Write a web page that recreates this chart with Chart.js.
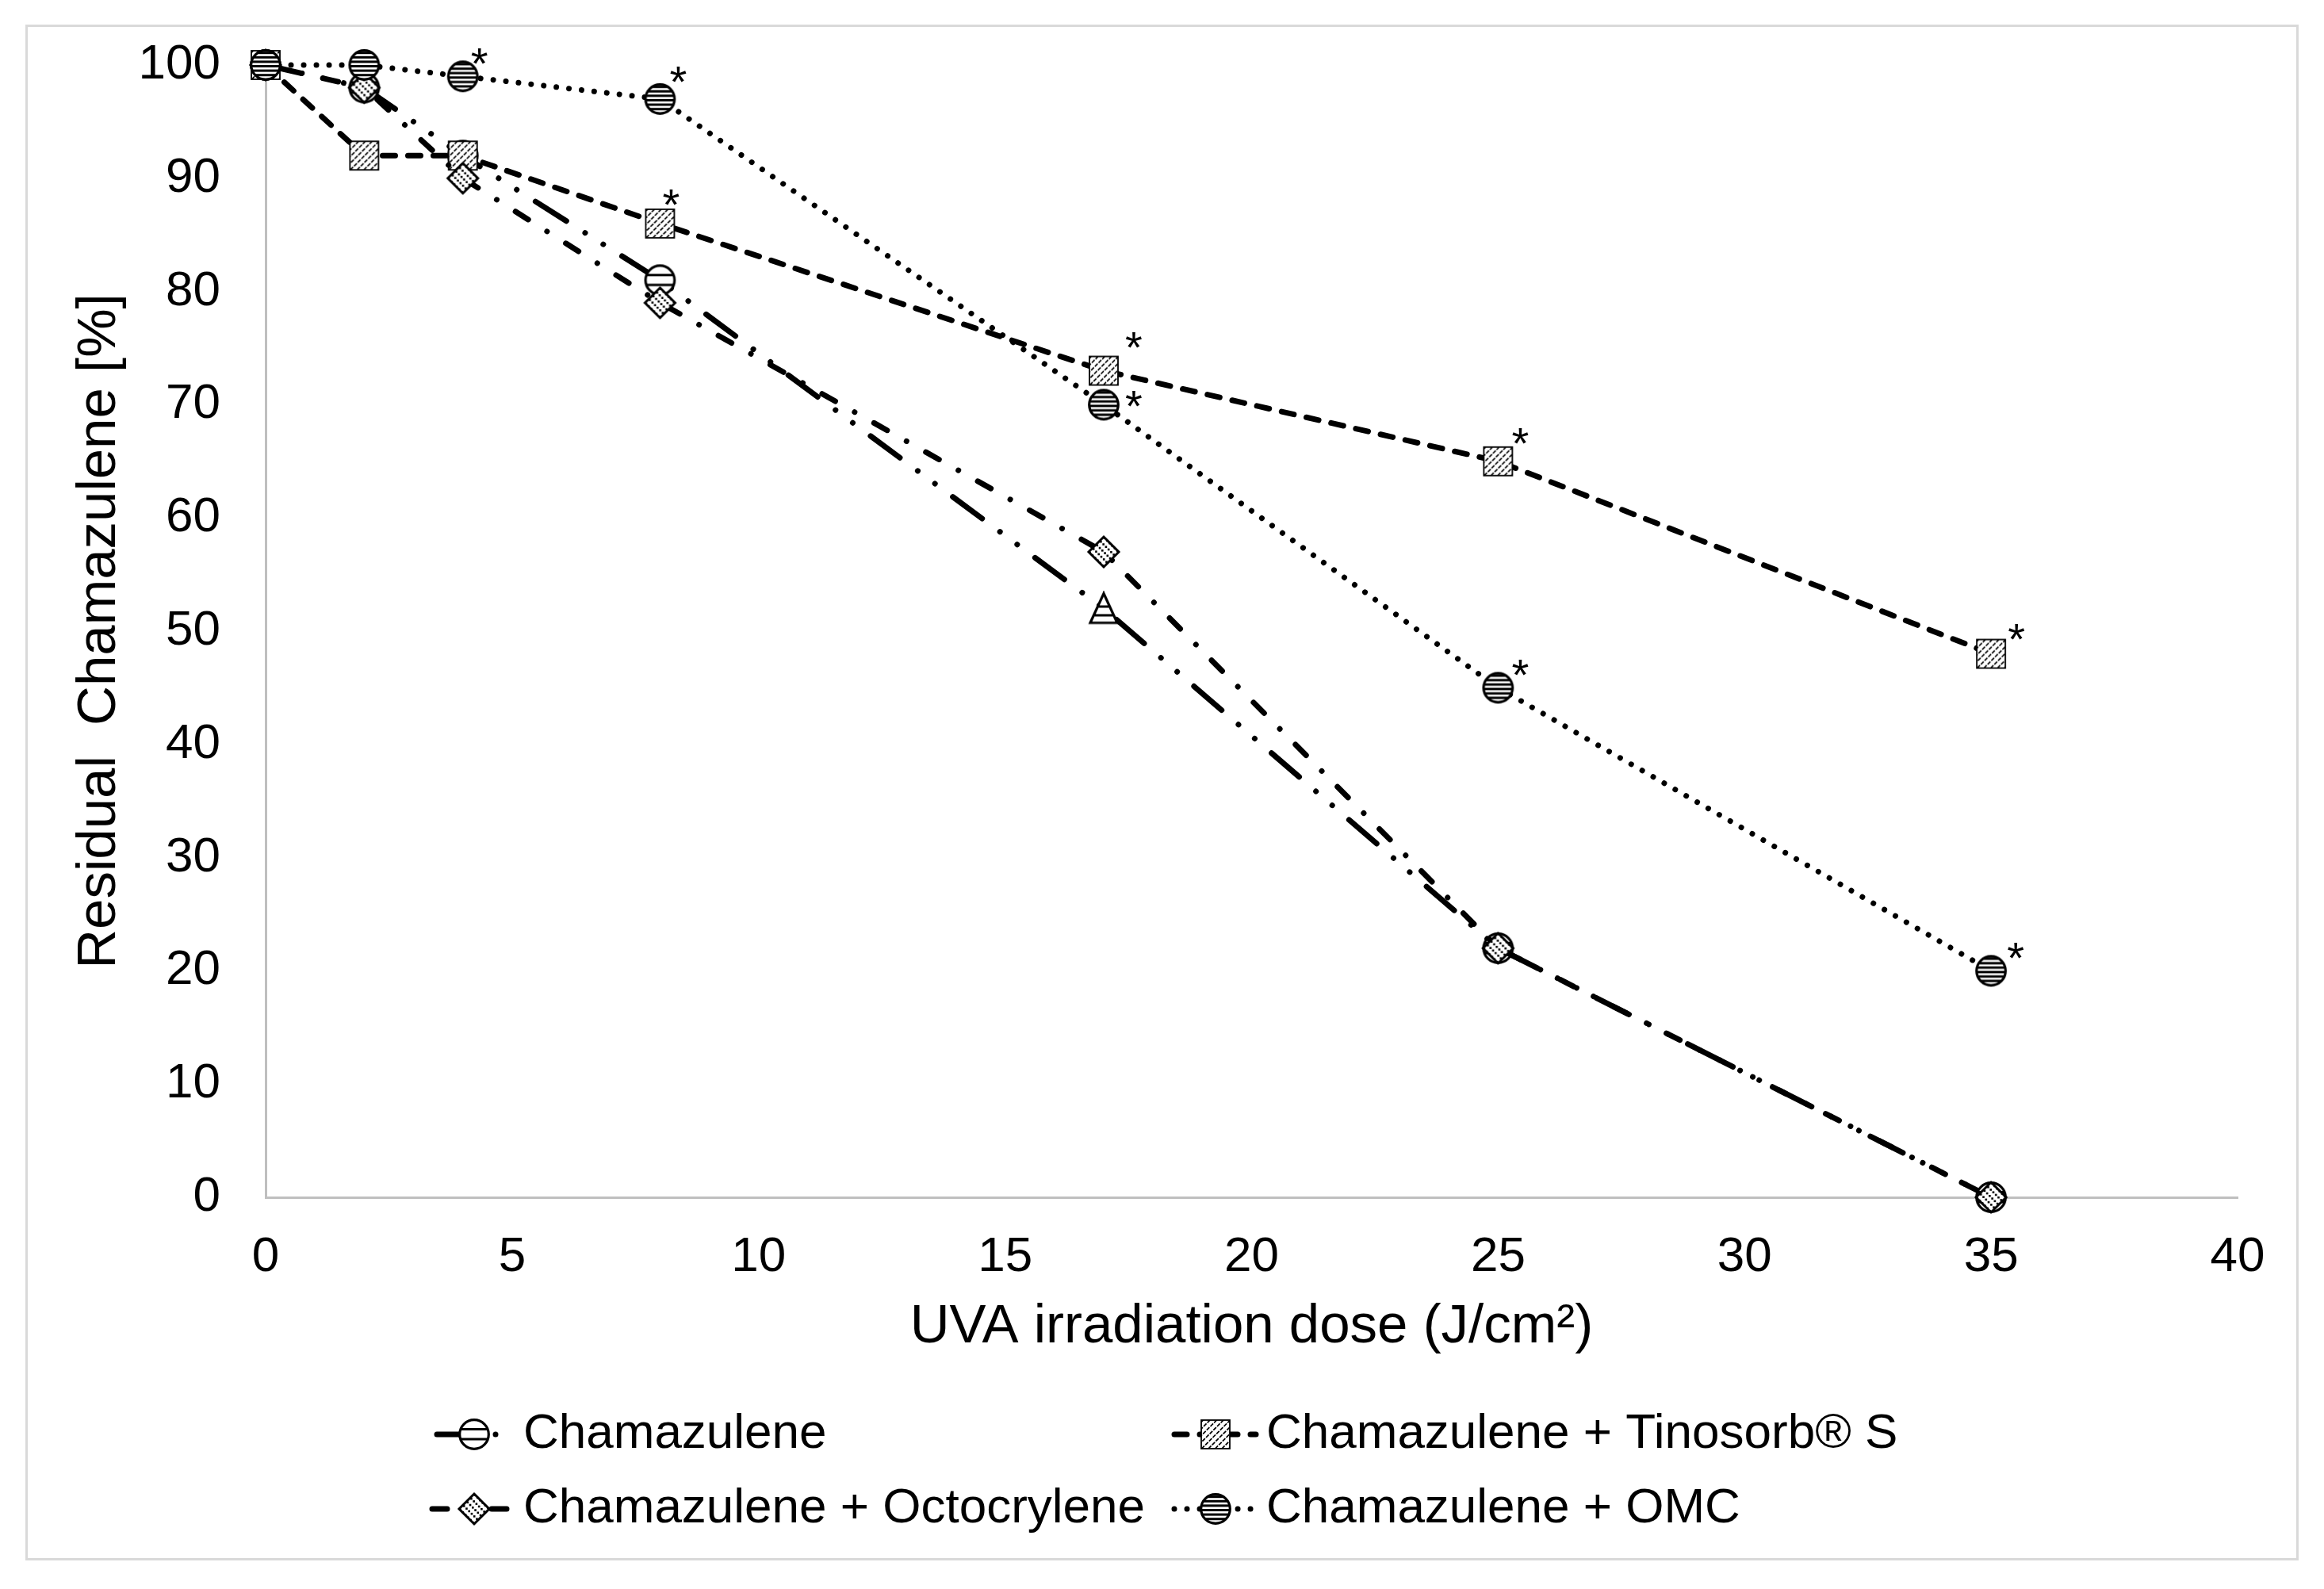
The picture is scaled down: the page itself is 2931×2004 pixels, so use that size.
<!DOCTYPE html>
<html>
<head>
<meta charset="utf-8">
<script src="https://cdn.jsdelivr.net/npm/chart.js@4.4.1/dist/chart.umd.min.js"></script>
<style>
html,body{margin:0;padding:0;background:#fff;}
canvas{display:block;}
</style>
</head>
<body>
<canvas id="c" width="2931" height="2004" style="width:2931px;height:2004px"></canvas>
<script>
// ---------------- data ----------------
const doses = [0, 2, 4, 8, 17, 25, 35];
const chamazulene = [100, 98, 92, 81, 52, 22, 0];
const tinosorb    = [100, 92, 92, 86, 73, 65, 48];
const octocrylene = [100, 98, 90, 79, 57, 22, 0];
const omc         = [100, 100, 99, 97, 70, 45, 20];
const tinosorbSignificant = [false, false, false, true, true, true, true];
const omcSignificant      = [false, false, true, true, true, true, true];
const seriesNames = ['Chamazulene', 'Chamazulene + Tinosorb® S', 'Chamazulene + Octocrylene', 'Chamazulene + OMC'];
const xAxisTitle = 'UVA irradiation dose (J/cm²)';
const yAxisTitle = 'Residual  Chamazulene [%]';
const xMin = 0, xMax = 40, xStep = 5;
const yMin = 0, yMax = 100, yStep = 10;

// ---------------- styling ----------------
const FONT = "'Liberation Sans', Arial, Helvetica, sans-serif";
const LW = 7;
// asterisk placement relative to the marker (styling only)
const tinosorbStarOffset = [null, null, null, [14, -37], [38, -43], [28, -36], [32, -32]];
const omcStarOffset      = [null, null, [21, -29], [23, -35], [38, -11], [28, -29], [31, -29]];
// legend swatch extents and dash offsets (styling only)
const legendSwatch = [[545, 630], [1481, 1584], [545, 647], [1481, 1584]];
const legendDashOffset = [-6, 0, 0, 0];

function mk(w, h, draw) {
  const c = document.createElement('canvas');
  c.width = w; c.height = h;
  draw(c.getContext('2d'), w, h);
  return c;
}
// Chamazulene: white circle with two horizontal bars
const mChamCircle = mk(44, 44, g => {
  const c = 22, r = 18.3;
  g.beginPath(); g.arc(c, c, r, 0, 2 * Math.PI); g.fillStyle = '#fff'; g.fill();
  g.save(); g.clip(); g.fillStyle = '#000';
  g.fillRect(0, 14, 44, 3); g.fillRect(0, 26.5, 44, 3);
  g.restore();
  g.beginPath(); g.arc(c, c, r, 0, 2 * Math.PI); g.lineWidth = 3.2; g.strokeStyle = '#000'; g.stroke();
});
// Chamazulene at 17 rendered as a striped triangle in the original
const mChamTri = mk(44, 44, g => {
  const path = () => { g.beginPath(); g.moveTo(22, 3); g.lineTo(39, 40); g.lineTo(5, 40); g.closePath(); };
  path(); g.fillStyle = '#fff'; g.fill();
  g.save(); path(); g.clip(); g.fillStyle = '#000';
  g.fillRect(0, 18, 44, 3); g.fillRect(0, 29, 44, 3);
  g.restore();
  path(); g.lineWidth = 3.2; g.strokeStyle = '#000'; g.lineJoin = 'miter'; g.stroke();
});
// Tinosorb: hatched square
const mSquare = mk(42, 42, g => {
  const x0 = 3, y0 = 3, s = 36;
  g.fillStyle = '#fff'; g.fillRect(x0, y0, s, s);
  g.save(); g.beginPath(); g.rect(x0, y0, s, s); g.clip();
  g.strokeStyle = '#000'; g.lineWidth = 1.7; g.setLineDash([5, 1.6]);
  for (let k = -42; k <= 42; k += 8.5) {
    g.beginPath(); g.moveTo(x0 + k, y0 + s); g.lineTo(x0 + k + s, y0); g.stroke();
  }
  g.restore();
  g.setLineDash([]); g.lineWidth = 1.8; g.strokeStyle = '#000'; g.strokeRect(x0, y0, s, s);
});
// Octocrylene: diamond with dotted hatch
const mDiamond = mk(44, 44, g => {
  const c = 22, r = 19;
  const path = () => { g.beginPath(); g.moveTo(c, c - r); g.lineTo(c + r, c); g.lineTo(c, c + r); g.lineTo(c - r, c); g.closePath(); };
  path(); g.fillStyle = '#fff'; g.fill();
  g.save(); path(); g.clip(); g.fillStyle = '#000';
  for (let k = -3; k <= 3; k++) {
    const off = k * 6.5;
    for (let t = -30; t <= 30; t += 4.6) {
      const x = c + (t + off) / Math.SQRT2;
      const y = c + (t - off) / Math.SQRT2;
      g.fillRect(x - 1.3, y - 1.3, 2.6, 2.6);
    }
  }
  g.restore();
  path(); g.lineWidth = 3; g.strokeStyle = '#000'; g.stroke();
});
// OMC: densely striped circle
const mOmc = mk(44, 44, g => {
  const c = 22, r = 18.3;
  g.beginPath(); g.arc(c, c, r, 0, 2 * Math.PI); g.fillStyle = '#fff'; g.fill();
  g.save(); g.clip(); g.fillStyle = '#000';
  for (let y = c - r + 1.5; y < c + r; y += 5.6) g.fillRect(0, y, 44, 3);
  g.restore();
  g.beginPath(); g.arc(c, c, r, 0, 2 * Math.PI); g.lineWidth = 3.2; g.strokeStyle = '#000'; g.stroke();
});

const chamStyles = doses.map((d, i) => (i === 4 ? mChamTri : mChamCircle));
const pts = ys => ys.map((y, i) => ({ x: doses[i], y }));

const common = {
  borderColor: '#000', backgroundColor: '#fff', borderWidth: LW,
  borderCapStyle: 'round', borderJoinStyle: 'round', tension: 0, fill: false,
  pointRadius: 19, pointHoverRadius: 19, clip: false
};

const datasets = [
  Object.assign({ label: seriesNames[0], data: pts(chamazulene), borderDash: [46, 28, 0.01, 27, 0.01, 28], pointStyle: chamStyles, order: 3 }, common),
  Object.assign({ label: seriesNames[1], data: pts(tinosorb), borderDash: [16, 16], pointStyle: mSquare, order: 2 }, common),
  Object.assign({ label: seriesNames[2], data: pts(octocrylene), borderDash: [19, 28, 0.01, 28], pointStyle: mDiamond, order: 1 }, common),
  Object.assign({ label: seriesNames[3], data: pts(omc), borderDash: [0.01, 16], pointStyle: mOmc, order: 0 }, common)
];

const bgPlugin = {
  id: 'bg',
  beforeDraw(chart) {
    const g = chart.ctx;
    g.save(); g.fillStyle = '#fff'; g.fillRect(0, 0, chart.width, chart.height); g.restore();
  },
  afterDraw(chart) {
    const g = chart.ctx;
    g.save(); g.strokeStyle = '#d9d9d9'; g.lineWidth = 3;
    g.strokeRect(33.5, 32.5, 2864, 1934); g.restore();
  }
};

const starPlugin = {
  id: 'stars',
  afterDatasetsDraw(chart) {
    const g = chart.ctx;
    g.save();
    g.fillStyle = '#000'; g.font = '56px ' + FONT; g.textAlign = 'center'; g.textBaseline = 'alphabetic';
    const draw = (dsIndex, flags, offs) => {
      const meta = chart.getDatasetMeta(dsIndex);
      flags.forEach((f, i) => {
        if (!f) return;
        const p = meta.data[i];
        const o = offs[i] || [28, -32];
        g.fillText('*', p.x + o[0], p.y + o[1] + 32);
      });
    };
    draw(1, tinosorbSignificant, tinosorbStarOffset);
    draw(3, omcSignificant, omcStarOffset);
    g.restore();
  }
};

const legendPlugin = {
  id: 'customLegend',
  afterDraw(chart) {
    const g = chart.ctx;
    const textX = [660, 1597, 660, 1597];
    const markerX = [598, 1533, 598, 1533];
    const rows = [1809, 1903];
    chart.data.datasets.forEach((ds, i) => {
      const y = rows[Math.floor(i / 2)];
      const [x0, x1] = legendSwatch[i];
      g.save();
      g.strokeStyle = '#000'; g.lineWidth = ds.borderWidth; g.lineCap = 'round';
      g.setLineDash(ds.borderDash);
      g.lineDashOffset = legendDashOffset[i];
      g.beginPath(); g.moveTo(x0, y); g.lineTo(x1, y); g.stroke();
      g.setLineDash([]);
      const st = Array.isArray(ds.pointStyle) ? ds.pointStyle[0] : ds.pointStyle;
      const mx = markerX[i];
      g.drawImage(st, mx - st.width / 2, y - st.height / 2);
      g.fillStyle = '#000'; g.font = '62px ' + FONT; g.textAlign = 'left'; g.textBaseline = 'middle';
      g.fillText(ds.label, textX[i], y);
      g.restore();
    });
  }
};

const noPad = s => { s.paddingTop = 0; s.paddingBottom = 0; s.paddingLeft = 0; s.paddingRight = 0; };

new Chart(document.getElementById('c').getContext('2d'), {
  type: 'line',
  data: { datasets },
  options: {
    responsive: false, animation: false, devicePixelRatio: 1, events: [],
    layout: { padding: { left: 0, top: 82, right: 109, bottom: 289 }, autoPadding: false },
    plugins: { legend: { display: false }, tooltip: { enabled: false }, title: { display: false } },
    scales: {
      x: {
        type: 'linear', min: xMin, max: xMax,
        ticks: { stepSize: xStep, color: '#000', font: { family: FONT, size: 62 }, padding: 39, maxRotation: 0, autoSkip: false },
        grid: { display: false, drawTicks: false },
        border: { display: true, color: '#bfbfbf', width: 3 },
        title: { display: true, text: xAxisTitle, color: '#000', font: { family: FONT, size: 69 }, padding: 0 },
        afterFit: s => { s.height = 205; noPad(s); }
      },
      y: {
        type: 'linear', min: yMin, max: yMax,
        ticks: { stepSize: yStep, color: '#000', font: { family: FONT, size: 62 }, padding: 57 },
        grid: { display: false, drawTicks: false },
        border: { display: true, color: '#bfbfbf', width: 3 },
        title: { display: true, text: yAxisTitle, color: '#000', font: { family: FONT, size: 69 }, padding: { top: 85, bottom: 0 } },
        afterFit: s => { s.width = 335; noPad(s); }
      }
    }
  },
  plugins: [bgPlugin, starPlugin, legendPlugin]
});
</script>
</body>
</html>
